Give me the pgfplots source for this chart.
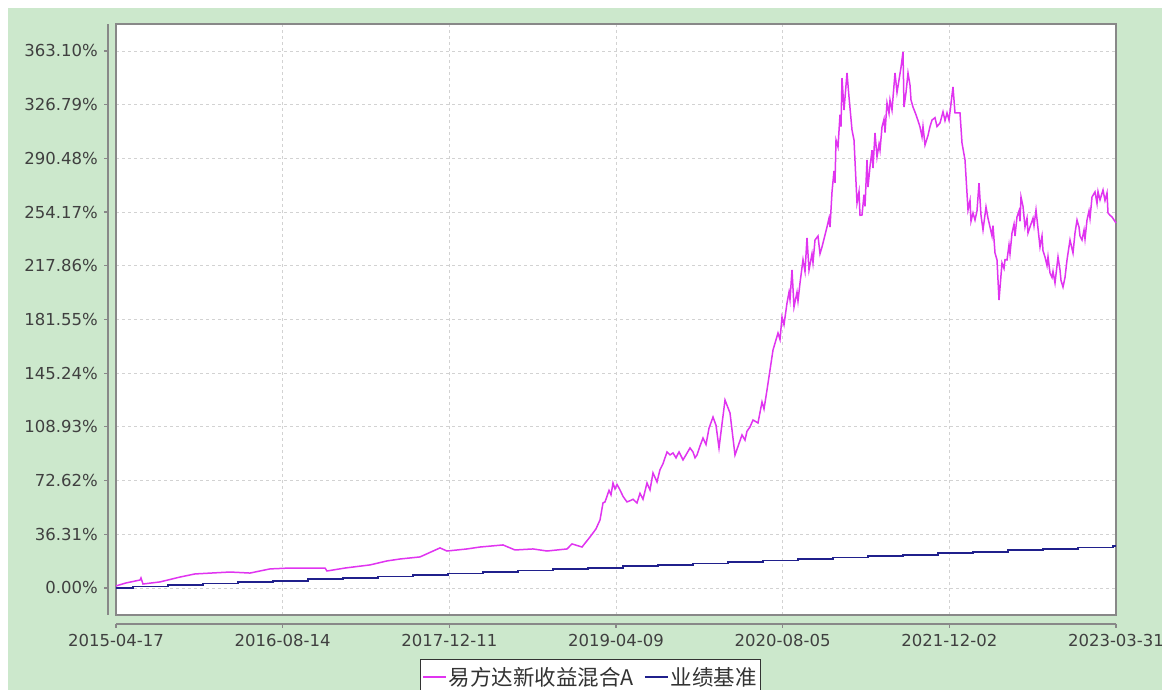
\documentclass[border=0pt]{standalone}
\usepackage{fontspec}
\setmainfont{DejaVu Sans}
\newfontfamily\cjk{Noto Sans CJK SC}
\usepackage{pgfplots}
\pgfplotsset{compat=1.18}
\definecolor{bggreen}{RGB}{204,232,204}
\definecolor{fundpink}{RGB}{224,52,240}
\definecolor{benchblue}{RGB}{32,32,140}
\definecolor{axgray}{RGB}{136,136,136}
\definecolor{labgray}{RGB}{64,64,64}
\begin{document}
\begin{tikzpicture}[x=1pt,y=1pt]
\useasboundingbox (0,0) rectangle (1162,690);
\fill[white] (0,0) rectangle (1162,690);
\fill[bggreen] (8,0) rectangle (1162,682);
\begin{axis}[name=main, at={(116pt,75pt)}, anchor=south west,
  scale only axis, width=1000pt, height=591pt,
  xmin=0, xmax=1000, ymin=-18.26, ymax=381.35,
  axis background/.style={fill=white},
  axis line style={draw=axgray, line width=1.5pt},
  xtick={0,166.667,333.333,500,666.667,833.333,1000},
  xticklabels={2015-04-17,2016-08-14,2017-12-11,2019-04-09,2020-08-05,2021-12-02,2023-03-31},
  ytick={0,36.31,72.62,108.93,145.24,181.55,217.86,254.17,290.48,326.79,363.10},
  yticklabels={0.00\%,36.31\%,72.62\%,108.93\%,145.24\%,181.55\%,217.86\%,254.17\%,290.48\%,326.79\%,363.10\%},
  grid=major, major grid style={draw=gray!35, dash pattern=on 3pt off 3pt, line width=0.8pt},
  tick style={draw=none},
  xticklabel style={inner sep=0pt, yshift=-19pt, anchor=north, font=\fontsize{16.5}{18}\selectfont, text=labgray},
  yticklabel style={inner sep=0pt, xshift=-18pt, anchor=east, font=\fontsize{16.5}{18}\selectfont, text=labgray},
  clip=false,
  legend columns=2,
  legend style={at={(0.4745,-0.0745)}, anchor=north, draw=black!80, fill=white, line width=0.8pt,
    font=\cjk\fontsize{21.5}{23}\selectfont, text=black!80, inner xsep=2pt, inner ysep=6pt,
    /tikz/every even column/.append style={column sep=8pt}},
  legend image code/.code={\draw[#1, line width=1.6pt] (0pt,0pt) -- (23pt,0pt);},
]
\addplot[color=fundpink, draw=fundpink, line width=1.5pt] coordinates {
(0,1.4) (10,3.4) (24,5.4) (25,6.8) (27,2.7) (44,4.1) (64,7.4) (79,9.5) (114,10.8) (134,10.1)
(154,12.9) (174,13.5) (209,13.5) (211,11.5) (229,13.5) (254,15.6) (271,18.3) (284,19.6) (294,20.3)
(304,21.0) (324,27.1) (331,25.0) (351,26.4) (364,27.7) (387,29.1) (399,25.7) (417,26.4) (431,25.0)
(451,26.4) (456,29.8) (466,27.7) (474,34.5) (477,37.2) (480,40.0) (484,46.0) (487,57.5) (489,58.2)
(491,62.0) (493,66.0) (495,63.0) (497,71.0) (499,67.0) (501,70.0)
(504,66.3) (507,62.0) (509,60.0) (511,58.2) (514,59.0) (517,60.0) (521,57.5) (524,64.0) (527,60.0)
(531,71.0) (534,66.3) (537,77.8) (541,71.7) (544,80.0) (547,84.0) (549,88.0) (551,92.0) (554,90.0)
(557,91.3) (560,88.0) (563,92.0)
(567,86.6) (570,90.0) (574,94.7) (577,92.0) (579,88.0) (581,89.9) (584,96.0) (587,101.4) (590,97.0)
(593,108.0) (597,115.6) (600,110.0) (603,94.7) (609,127.1) (614,118.3) (619,89.9)
(626,103.5) (629,100.0) (631,106.0) (634,108.9) (637,113.6) (642,111.6) (646,125.8) (648,121.0)
(651,133.9) (654,147.4) (657,160.9)
(662,172.4) (664,168.0) (666,183.2) (668,178.0) (671,192.7) (673,200.0) (674,195.0) (676,215.0)
(678,190.0) (681,200.0) (682,194.0) (684,206.2) (687,222.0) (689,214.0) (691,236.7) (693,215.0)
(696,226.0) (697,220.0) (699,235.3) (702,238.0) (704,226.0) (706,230.6) (708,236.0) (711,244.1)
(713,250.0) (714,244.0) (716,267.8) (718,282.0) (719,274.0) (720,302.9) (722,298.2) (724,320.0)
(725,312.0) (726,344.8) (728,323.2)
(731,348.2) (733,332.0) (736,309.7) (738,302.9) (741,260.3) (743,268.0) (744,252.0) (746,252.2)
(748,266.0) (749,258.0) (751,289.4) (752,271.1) (754,285.0) (756,296.0) (757,284.0) (759,307.7)
(761,291.4) (763,300.0) (764,296.0) (766,311.7) (768,317.0) (769,308.0) (771,327.9) (773,321.0)
(774,330.0) (776,323.2) (779,348.2) (781,335.0) (783,343.5) (785,352.0) (787,362.4) (788,325.2)
(790,335.0) (792,348.2) (794,340.0) (795,330.0) (797,325.2) (800,320.0) (802,316.0) (804,311.7)
(806,305.0) (807,312.0) (809,299.5) (812,306.0) (814,312.0) (816,316.4) (819,318.0) (821,312.0)
(824,314.4) (827,322.0) (829,316.0) (831,321.2) (833,316.4)
(837,338.8) (839,321.2) (844,321.2) (846,300.9) (849,289.4) (852,255.6) (854,262.0) (855,248.0)
(857,253.6) (859,248.8) (861,255.0)
(863,273.8) (865,252.0) (867,242.1) (870,257.6) (872,250.0) (874,244.1) (876,238.0) (877,245.0)
(879,226.5) (881,221.8) (883,194.7) (886,219.8) (888,216.0) (889,222.0)
(891,221.8) (893,232.0) (894,226.0) (896,240.0) (898,246.0) (899,238.0) (901,250.9) (903,255.0)
(904,248.0) (905,264.4) (907,258.0) (909,244.1) (911,250.0) (912,240.0) (914,244.1) (917,250.0)
(918,245.0) (920,255.6) (924,230.6) (926,238.0) (927,228.0)
(929,223.8) (931,218.0) (932,224.0) (934,213.0) (936,210.0) (937,214.0) (939,206.2) (942,223.8)
(944,215.0) (945,208.0) (947,203.5) (949,210.0) (951,221.8) (954,235.3) (957,226.5) (959,240.0)
(961,248.8) (963,244.0) (964,238.0) (966,235.3) (968,242.0) (969,236.0) (971,248.8) (973,255.0)
(974,250.0) (976,264.4) (979,267.8) (981,260.0) (982,268.0) (984,262.4) (987,269.1) (989,262.0)
(991,267.1) (992,253.6) (994,252.0) (996,250.9) (1000,246.8)
};
\addlegendentry{易方达新收益混合A}
\addplot[color=benchblue, draw=benchblue, line width=1.7pt, const plot] coordinates {
(0,0) (17,0.98) (52,1.96) (87,2.94) (122,3.92) (157,4.90) (192,5.88) (227,6.86) (262,7.84) (297,8.82)
(332,9.80) (367,10.78) (402,11.76) (437,12.74) (472,13.72) (507,14.70) (542,15.68) (577,16.66)
(612,17.64) (647,18.62) (682,19.60) (717,20.58) (752,21.56) (787,22.54) (822,23.52) (857,24.50)
(892,25.48) (927,26.46) (962,27.44) (997,28.42) (1000,28.42)
};
\addlegendentry{业绩基准}
\draw[axgray, line width=1.5pt] ([xshift=-8pt]rel axis cs:0,0) -- ([xshift=-8pt]rel axis cs:0,1);
\draw[axgray, line width=1.5pt] ([yshift=-9pt]rel axis cs:0,0) -- ([yshift=-9pt]rel axis cs:1,0);
\pgfplotsinvokeforeach{0,36.31,72.62,108.93,145.24,181.55,217.86,254.17,290.48,326.79,363.10}{
  \draw[axgray, line width=1.2pt] ([xshift=-8pt]axis cs:0,#1) -- ([xshift=-12pt]axis cs:0,#1);
}
\pgfplotsinvokeforeach{0,166.667,333.333,500,666.667,833.333,1000}{
  \draw[axgray, line width=1.2pt] ([yshift=-9pt]axis cs:#1,-18.26) -- ([yshift=-13pt]axis cs:#1,-18.26);
}
\end{axis}
\end{tikzpicture}
\end{document}
